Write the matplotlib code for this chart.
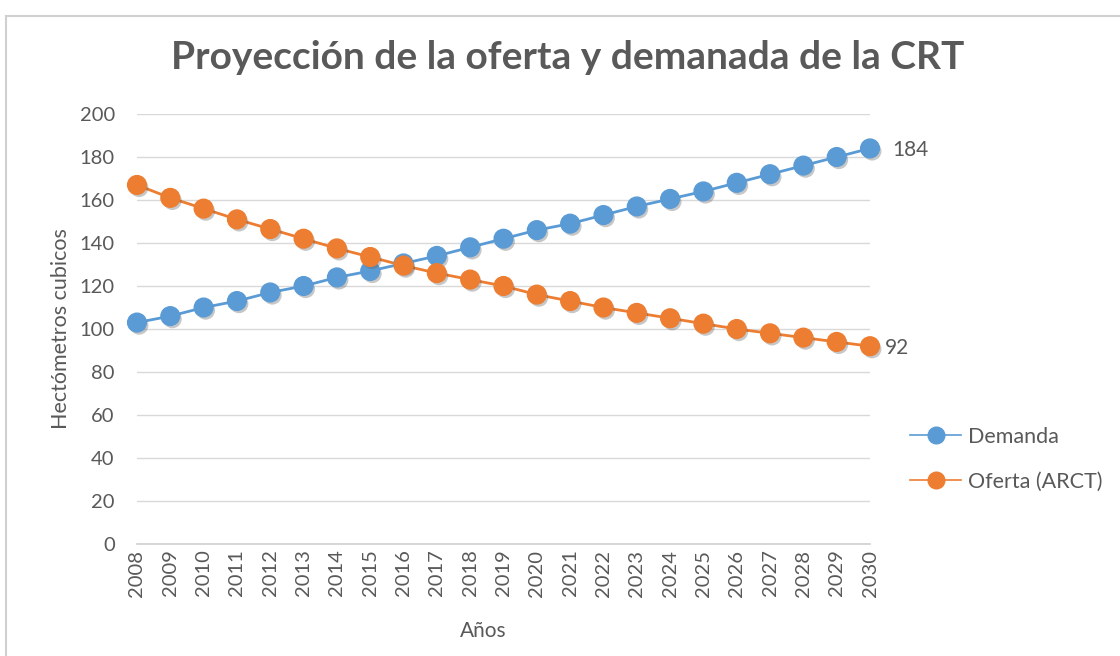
import numpy as np
import matplotlib.pyplot as plt
import matplotlib.patheffects as pe
from matplotlib.lines import Line2D
from matplotlib.patches import Rectangle

plt.rcParams['font.family'] = ['Lato', 'DejaVu Sans']

years = list(range(2008, 2031))
demanda = [103, 106, 110, 113, 117, 120, 124, 127, 130.5, 134, 138, 142, 146,
           149, 153, 157, 160.5, 164, 168, 172, 176, 180, 184]
oferta = [167, 161, 156, 151, 146.5, 142, 137.5, 133.5, 129.5, 126, 123, 120, 116,
          113, 110, 107.5, 105, 102.5, 100, 98, 96, 94, 92]

azul = '#5b9bd5'
naranja = '#ed7d31'
gris = '#595959'

fig = plt.figure(figsize=(11.2, 6.56), dpi=100)
ax = fig.add_axes([0.1223, 0.1707, 0.6545, 0.6555])

# marco del grafico
fig.patches.append(Rectangle((6 / 1120, -0.01), 1.02, 0.998 - 8 / 656,
                             transform=fig.transFigure, fill=False,
                             edgecolor='#d0d0d0', linewidth=1.5))

sombra = [pe.SimplePatchShadow(offset=(1.5, -2), alpha=0.35, shadow_rgbFace='#606060'),
          pe.Normal()]

for serie, color in [(demanda, azul), (oferta, naranja)]:
    ax.plot(years, serie, color=color, linewidth=2, zorder=3, clip_on=False)
    ax.plot(years, serie, linestyle='none', marker='o', markersize=13.5,
            color=color, zorder=4, path_effects=sombra, clip_on=False)

ax.annotate(f'{demanda[-1]:g}', (years[-1], demanda[-1]), xytext=(16, -1),
            textcoords='offset points', va='center', ha='left', fontsize=15,
            color=gris)
ax.annotate(f'{oferta[-1]:g}', (years[-1], oferta[-1]), xytext=(11, -1),
            textcoords='offset points', va='center', ha='left', fontsize=15,
            color=gris)

ax.set_xlim(years[0], years[-1])
ax.set_ylim(0, 200)
ax.set_yticks(np.arange(0, 201, 20))
ax.set_xticks(years)
ax.set_xticklabels([str(a) for a in years], rotation=90)
ax.grid(axis='y', color='#d9d9d9', linewidth=1)
ax.set_axisbelow(True)
for s in ['top', 'right', 'left']:
    ax.spines[s].set_visible(False)
ax.spines['bottom'].set_color('#d0d0d0')
ax.spines['bottom'].set_linewidth(1.2)
ax.tick_params(length=0, labelsize=14.5, colors=gris)
ax.tick_params(axis='y', pad=16)
ax.tick_params(axis='x', pad=4)

ax.set_xlabel('Años', fontsize=15, color=gris)
ax.xaxis.set_label_coords(0.473, -0.18)
ax.set_ylabel('Hectómetros cubicos', fontsize=15.5, color=gris)
ax.yaxis.set_label_coords(-0.09, 0.5)

fig.text(0.507, 0.913, 'Proyección de la oferta y demanada de la CRT',
         ha='center', va='center', fontsize=28, fontweight='bold', color=gris)

handles = [Line2D([], [], color=azul, marker='o', markersize=12, linewidth=1.2),
           Line2D([], [], color=naranja, marker='o', markersize=12, linewidth=1.2)]
fig.legend(handles, ['Demanda', 'Oferta (ARCT)'], loc='center left',
           bbox_to_anchor=(0.795, 0.300), frameon=False, fontsize=15.5,
           labelcolor=gris, handlelength=2.4, handletextpad=0.3,
           labelspacing=1.15)

fig.savefig('out.png', dpi=100)
